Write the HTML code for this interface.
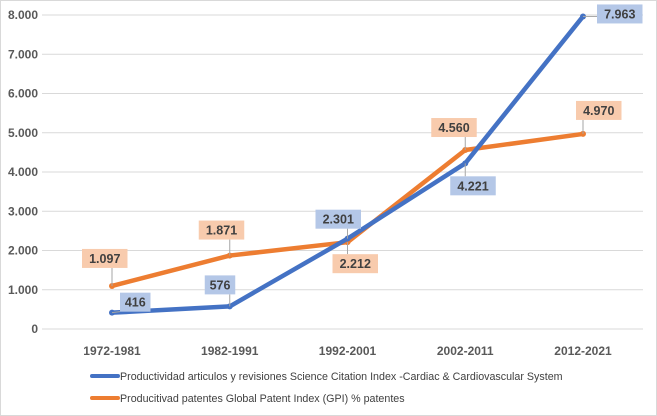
<!DOCTYPE html>
<html><head><meta charset="utf-8"><style>
body{margin:0;background:#fff;font-family:"Liberation Sans",sans-serif}
svg{display:block}
</style></head><body>
<svg width="657" height="416">
<rect x="0.5" y="0.5" width="656" height="415" fill="#fff" stroke="#d9d9d9"/>
<g id="grid"></g><g id="series"></g><g id="labels"></g>
<g>
<line x1="92" y1="376" x2="118" y2="376" stroke="#4472c4" stroke-width="4" stroke-linecap="round"/>
<text x="120" y="380" font-size="10.7" fill="#404040">Productividad articulos y revisiones Science Citation Index -Cardiac &amp; Cardiovascular System</text>
<line x1="92" y1="398" x2="118" y2="398" stroke="#ed7d31" stroke-width="4" stroke-linecap="round"/>
<text x="120" y="402" font-size="10.7" fill="#404040">Producitivad patentes Global Patent Index (GPI) % patentes</text>
</g>
</svg>
<script>
const categories=["1972-1981","1982-1991","1992-2001","2002-2011","2012-2021"];
const articulos=[416,576,2301,4221,7963];
const patentes=[1097,1871,2212,4560,4970];
const yTicks=[0,1000,2000,3000,4000,5000,6000,7000,8000];
const yTickLabels=["0","1.000","2.000","3.000","4.000","5.000","6.000","7.000","8.000"];
const artLabelOff=[[8,-20],[-25,-31],[-32,-29],[-15,13],[14,-12]];
const patLabelOff=[[-30,-37],[-31,-35],[-15,12],[-34,-32],[-7,-33]];
const NS="http://www.w3.org/2000/svg";
const x=i=>112+i*117.75;
const y=v=>329-v*(314/8000);
function mk(tag,attrs,parent){const e=document.createElementNS(NS,tag);for(const k in attrs)e.setAttribute(k,attrs[k]);parent.appendChild(e);return e;}
const grid=document.getElementById('grid');
yTicks.forEach((t,i)=>{
 const l=mk('line',{x1:42,x2:643,y1:y(t),y2:y(t),stroke:'#d9d9d9','stroke-width':1},grid);
 
 
 const tx=mk('text',{x:38,y:y(t)+4,'text-anchor':'end','font-size':12,'font-weight':'bold',fill:'#595959'},grid);
 tx.textContent=yTickLabels[i];
 
 
});
categories.forEach((c,i)=>{
 const tx=mk('text',{x:x(i),y:355,'text-anchor':'middle','font-size':12,'font-weight':'bold',fill:'#595959'},grid);
 tx.textContent=c;
 
 
});
const ser=document.getElementById('series'),lab=document.getElementById('labels');
function fmt(v){return v>=1000?Math.floor(v/1000)+'.'+String(v%1000).padStart(3,'0'):String(v);}
function draw(data,color,bg,off,name){
 const p=mk('polyline',{points:data.map((v,i)=>x(i)+','+y(v)).join(' '),fill:'none',stroke:color,'stroke-width':4.5,'stroke-linejoin':'round','stroke-linecap':'round'},ser);
 
 
 data.forEach((v,i)=>{
  const c=mk('circle',{cx:x(i),cy:y(v),r:3,fill:color},ser);
  
  
  const s=fmt(v),w=s.length*7.5+8,bx=x(i)+off[i][0],by=y(v)+off[i][1];
  const ax=Math.max(bx,Math.min(x(i),bx+w)),ay=Math.max(by,Math.min(y(v),by+19));
  const ll=mk('line',{x1:x(i),y1:y(v),x2:ax,y2:ay,stroke:'#a6a6a6','stroke-width':1},lab);
  
  
  const r=mk('rect',{x:bx,y:by,width:w,height:19,fill:bg},lab);
  
  
  const t=mk('text',{x:bx+w/2,y:by+14,'text-anchor':'middle','font-size':12.5,'font-weight':'bold',fill:'#404040'},lab);
  t.textContent=s;
  
  
 });
}
draw(patentes,'#ed7d31','#f8cbad',patLabelOff,'patentes');
draw(articulos,'#4472c4','#b4c7e7',artLabelOff,'articulos');
</script>
</body></html>
